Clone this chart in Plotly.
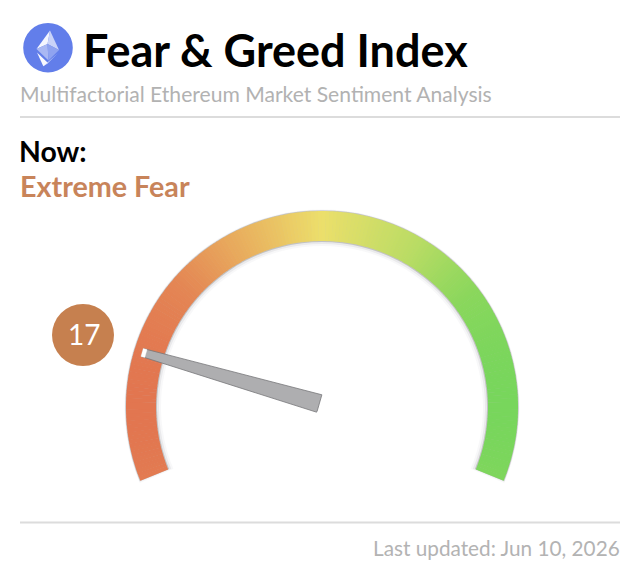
import plotly.graph_objects as go
import numpy as np

# ---- data ----
value = 17
status = "Extreme Fear"
title = "Fear & Greed Index"
subtitle = "Multifactorial Ethereum Market Sentiment Analysis"
now_label = "Now:"
updated = "Last updated: Jun 10, 2026"
stop_pos = [0.0, 0.12, 0.25, 0.5, 0.75, 0.9, 1.0]
stop_rgb = [(226,118,80), (228,134,84), (232,168,92), (236,223,107), (186,220,100), (138,215,92), (120,214,92)]

# ---- geometry of the page (px) ----
W, H = 640, 570
CX, CY = 322, 407
R_OUT, R_IN = 196, 166
A_START, A_END = 202.0, -22.0
RMAX = 200
SEC = [-46, 226]

def px(x): return x / W
def py(y): return 1 - y / H
def ang(v): return A_START + (A_END - A_START) * v / 100.0

def grad(fx):
    return "rgb(%d,%d,%d)" % tuple(int(round(np.interp(fx, stop_pos, [c[i] for c in stop_rgb]))) for i in range(3))

vals = np.arange(0.25, 100, 0.5)
thetas = [ang(v) for v in vals]
cols = [grad(0.5 + R_OUT * np.cos(np.radians(t)) / (2 * R_OUT)) for t in thetas]
wid = abs(A_END - A_START) / 100 * 0.5 + 0.15

fig = go.Figure()
# soft shadow layers
for dr_in, dr_out, dth, col in [(-5, 1.5, 0.6, "rgba(120,120,130,0.05)"), (-3, 1.0, 0.3, "rgba(120,120,130,0.10)"), (-1, 0.6, 0.1, "rgba(90,90,90,0.28)")]:
    fig.add_trace(go.Barpolar(r=[R_OUT + dr_out - (R_IN + dr_in)], base=[R_IN + dr_in], theta=[(A_START + A_END) / 2],
                              width=[abs(A_END - A_START) + 2 * dth], marker=dict(color=col, line_width=0), hoverinfo="skip"))
fig.add_trace(go.Barpolar(r=[R_OUT - R_IN] * len(vals), base=[R_IN] * len(vals), theta=thetas, width=[wid] * len(vals),
                          marker=dict(color=cols, line_width=0), hoverinfo="skip"))

# needle from the value
a = np.radians(ang(value))
u = np.array([np.cos(a), np.sin(a)]); n = np.array([-np.sin(a), np.cos(a)])
off = -2.6
def needle_trace(pts, **kw):
    xy = [u * al + n * (w + off) for al, w in pts]
    r = [float(np.hypot(*p)) for p in xy]
    t = [float(np.degrees(np.arctan2(p[1], p[0])) % 360) for p in xy]
    t = [x - 360 if x > 300 else x for x in t]
    return go.Scatterpolar(r=r, theta=t, mode="lines", fill="toself", hoverinfo="skip", **kw)

fig.add_trace(needle_trace([(187.5, 4.1), (187.5, -4.1), (3.5, -9.1), (3.5, 9.1), (187.5, 4.1)],
                           fillcolor="#aeaeb0", line=dict(color="#77777a", width=0.8)))
fig.add_trace(needle_trace([(188, 4.2), (188, -4.2), (184, -4.2), (184, 4.2), (188, 4.2)],
                           fillcolor="#ffffff", line=dict(color="#ffffff", width=0.3)))

shapes = []
def poly(pts, color):
    d = "M " + " L ".join(f"{px(x):.5f} {py(y):.5f}" for x, y in pts) + " Z"
    return dict(type="path", xref="paper", yref="paper", path=d, fillcolor=color, line_width=0, layer="above")
def circle(cx, cy, r, color):
    return dict(type="circle", xref="paper", yref="paper", x0=px(cx - r), x1=px(cx + r), y0=py(cy + r), y1=py(cy - r),
                fillcolor=color, line_width=0, layer="below")
def rule(y):
    return dict(type="line", xref="paper", yref="paper", x0=px(20), x1=px(620), y0=py(y), y1=py(y), line=dict(color="#dcdcdc", width=2))

shapes += [rule(117), rule(522.5), circle(48, 47.7, 24.8, "#627eea"), circle(83, 335, 31, "#c6804f")]
A = (50, 30.5); L = (36.5, 49); Rr = (59, 50); M = (48.5, 60.5); C = (47.5, 44)
shapes += [poly([A, L, C], "#f4f6fe"), poly([A, C, Rr], "#c9d3f8"), poly([L, C, M], "#a9b8f3"), poly([C, Rr, M], "#8fa3f0"),
           poly([(37, 52.5), (48, 63), (43.3, 66.3)], "#f7f8fe"),
           poly([(48, 63), (57.5, 53.5), (43.3, 66.3)], "#d3dbfa")]

def text(x, y, s, size, color, anchor="left", weight=400):
    return dict(text=s, x=px(x), y=py(y), xref="paper", yref="paper", xanchor=anchor, yanchor="middle", showarrow=False,
                font=dict(family="Lato", size=size, color=color, weight=weight))

ann = [text(81, 50.5, title, 45, "#000000", weight=700),
       text(18, 93, subtitle, 21.1, "#b2b2b2"),
       text(17, 151, now_label, 28.4, "#000000", weight=700),
       text(17.5, 186, status, 28.7, "#c8845a", weight=700),
       text(83.5, 334, str(value), 28, "#ffffff", anchor="center", weight=400),
       text(621.5, 547.5, updated, 20.75, "#b3b3b3", anchor="right")]

bottom = CY + RMAX * np.sin(np.radians(46))
fig.update_layout(
    width=W, height=H, margin=dict(l=0, r=0, t=0, b=0), autosize=False,
    paper_bgcolor="white", showlegend=False,
    polar=dict(domain=dict(x=[px(CX - RMAX), px(CX + RMAX)], y=[py(bottom), py(CY - RMAX)]),
               sector=SEC, bgcolor="rgba(0,0,0,0)", barmode="overlay",
               radialaxis=dict(visible=False, range=[0, RMAX], showgrid=False),
               angularaxis=dict(visible=False, showgrid=False, direction="counterclockwise", rotation=0)),
    shapes=shapes, annotations=ann)
fig.write_html("out.html", config=dict(displayModeBar=False), post_script="document.body.style.margin='0';document.body.style.overflow='hidden';")
